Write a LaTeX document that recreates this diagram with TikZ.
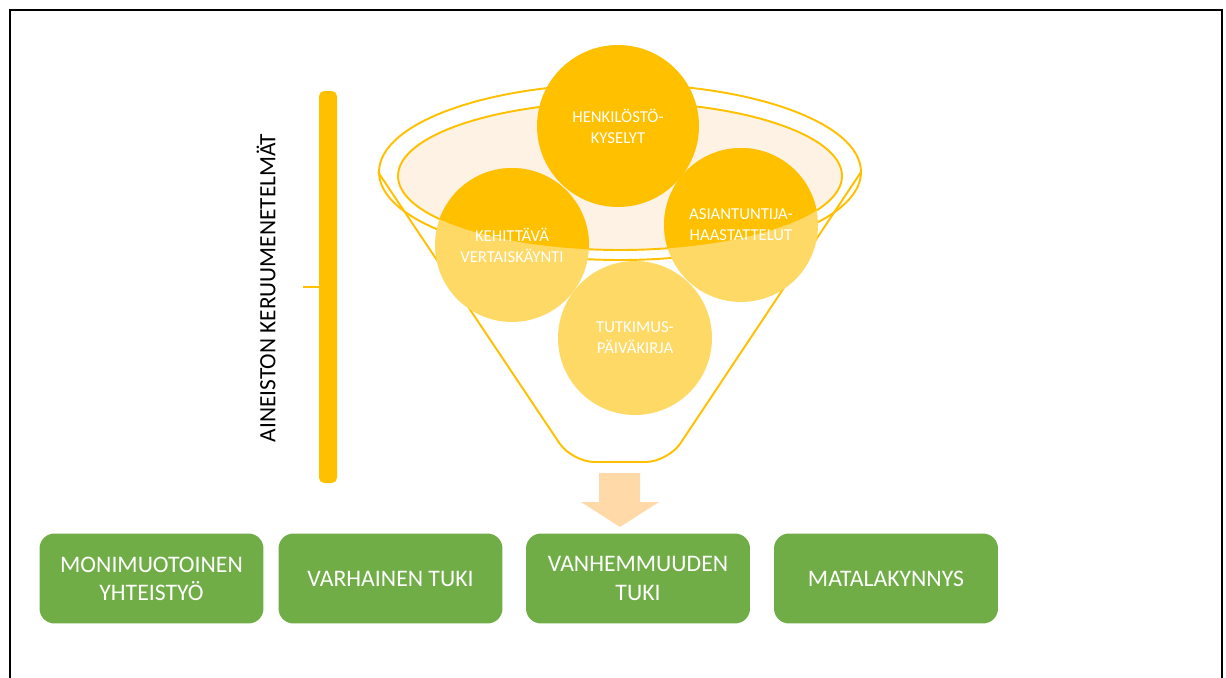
\documentclass[tikz,border=0pt]{standalone}
\usepackage{fontspec}
\setmainfont{Carlito}
\definecolor{gold}{HTML}{FFC000}
\definecolor{lightgold}{HTML}{FFD966}
\definecolor{peach}{HTML}{FDF2E4}
\definecolor{arrowpeach}{HTML}{FFDAA8}
\definecolor{leafgreen}{HTML}{70AD47}
\tikzstyle{method_circle} = [
    circle, 
    draw=none, 
    fill=lightgold, 
    inner sep=0pt, 
    minimum size=3.08cm % 154px
]
\tikzstyle{method_text} = [
    white, 
    font=\fontsize{9.5}{12}\selectfont, 
    align=center, 
    inner sep=0pt
]
\tikzstyle{result_box} = [
    rectangle, 
    rounded corners=0.3cm, 
    white, 
    fill=leafgreen, 
    font=\fontsize{13.5}{16}\selectfont, 
    align=center, 
    minimum width=4.48cm, 
    minimum height=1.8cm
]

\begin{document}
\begin{tikzpicture}[
    x=0.02cm, y=-0.02cm,
    funnel_line/.style={
        draw=gold, 
        line width=1.1pt
    }
] 
\useasboundingbox (0,0) rectangle (1226,678);
\draw[line width=1pt] (10,678) -- (10,10) -- (1222,10) -- (1222,678);

% side bar and its label
\fill[gold, rounded corners=3pt] (319,91) rectangle (337,483);
\coordinate (tick) at (303,287);
\draw[gold, line width=1.5pt] (tick) -- (320,287);
\node[rotate=90, font=\fontsize{13.3}{16}\selectfont] (methods) at (266,288) {AINEISTON KERUUMENETELMÄT};

% funnel
\draw[funnel_line, rounded corners=0.45cm] (378,172) -- (572,462) -- (668,462) -- (861,172);
\draw[funnel_line] (620,172) ellipse [x radius=241, y radius=88];
\draw[funnel_line, fill=peach] (620,176) ellipse [x radius=222, y radius=74];

\node[method_circle] (keh) at (512,245) {};
\node[method_circle] (asi) at (741,225) {};
\node[method_circle] (tut) at (635,338) {};
\begin{scope}
    \clip (620,176) ellipse [x radius=222, y radius=74];
    \fill[gold] (keh.center) circle (77);
    \fill[gold] (asi.center) circle (77);
\end{scope}
\node[method_circle, fill=gold, minimum size=3.24cm] (hen) at (618,126) {};

\node[method_text] (hen_text) at (hen) {HENKILÖSTÖ-\\KYSELYT};
\node[method_text] (keh_text) at (keh) {KEHITTÄVÄ\\VERTAISKÄYNTI};
\node[method_text] (asi_text) at (asi) {ASIANTUNTIJA-\\HAASTATTELUT};
\node[method_text] (tut_text) at (tut) {TUTKIMUS-\\PÄIVÄKIRJA};

% block arrow
\fill[arrowpeach] (599,473) -- (640,473) -- (640,502) -- (659,502) -- (620,527) -- (581,502) -- (599,502) -- cycle;

% results
\node[result_box] (yhteistyo) at (151.5,578.5) {MONIMUOTOINEN\\YHTEISTYÖ};
\node[result_box] (varhainen) at (390.5,578.5) {VARHAINEN TUKI};
\node[result_box] (vanhemmuus) at (638,578.5) {VANHEMMUUDEN\\TUKI};
\node[result_box] (matala) at (886,578.5) {MATALAKYNNYS};
\end{tikzpicture}
\end{document}
